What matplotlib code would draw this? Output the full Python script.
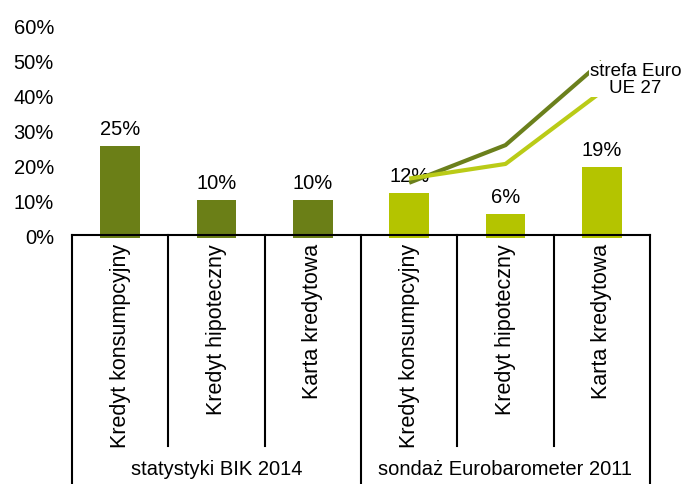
import matplotlib
matplotlib.use("Agg")
import matplotlib.pyplot as plt
from matplotlib.transforms import blended_transform_factory


# ============================================================
# Data
# ============================================================

CATEGORIES = [
    "Kredyt konsumpcyjny",
    "Kredyt hipoteczny",
    "Karta kredytowa",
    "Kredyt konsumpcyjny",
    "Kredyt hipoteczny",
    "Karta kredytowa",
]
BAR_VALUES = [0.255, 0.10, 0.10, 0.12, 0.06, 0.195]
BAR_LABELS = ["25%", "10%", "10%", "12%", "6%", "19%"]

GROUPS = ["statystyki BIK 2014", "sondaż Eurobarometer 2011"]

LINE_X = [3, 4, 5]
EURO_ZONE = [0.15, 0.258, 0.498]
EU27 = [0.162, 0.204, 0.412]

Y_TICKS = [0.0, 0.1, 0.2, 0.3, 0.4, 0.5, 0.6]

DARK = "#6B7F17"
LIGHT = "#B4C400"
DARK_LINE = "#6B801C"
LIGHT_LINE = "#BACB17"

plt.rcParams["font.family"] = ["Liberation Sans", "DejaVu Sans"]

FONT = 14.5


def main() -> None:
    fig = plt.figure(figsize=(6.83, 4.85), dpi=100)
    ax = fig.add_axes([72 / 683, 249 / 485, 578 / 683, 209 / 485])

    x = list(range(len(CATEGORIES)))
    colors = [DARK] * 3 + [LIGHT] * 3
    ax.bar(
        x,
        [v + 0.009 for v in BAR_VALUES],
        bottom=-0.009,
        width=0.41,
        color=colors,
        clip_on=False,
        zorder=1,
    )

    for xi, v, lab in zip(x, BAR_VALUES, BAR_LABELS):
        ax.annotate(
            lab,
            (xi, v),
            xytext=(0, 9),
            textcoords="offset points",
            ha="center",
            va="baseline",
            fontsize=FONT,
        )

    ax.plot(LINE_X, EURO_ZONE, color=DARK_LINE, linewidth=3, zorder=3,
            solid_capstyle="butt")
    ax.plot(LINE_X, EU27, color=LIGHT_LINE, linewidth=3, zorder=3,
            solid_capstyle="butt")
    ax.text(
        5.35, 0.448, "strefa Euro\nUE 27",
        ha="center", va="center", fontsize=13.5, linespacing=1.0,
        zorder=4,
        bbox=dict(facecolor="white", edgecolor="none", pad=0.8),
    )

    ax.set_xlim(-0.5, 5.5)
    ax.set_ylim(0, 0.6)
    ax.set_yticks(Y_TICKS)
    ax.set_yticklabels([f"{round(t * 100)}%" for t in Y_TICKS], fontsize=FONT)
    ax.tick_params(axis="y", length=0, pad=13)
    ax.set_xticks([])

    for side in ("left", "right", "top"):
        ax.spines[side].set_visible(False)
    ax.spines["bottom"].set_linewidth(1.5)
    ax.spines["bottom"].set_zorder(2.5)

    # table below the axis
    trans = blended_transform_factory(ax.transData, fig.transFigure)
    y_axis = 249 / 485
    y_inner = 38 / 485
    for xb in (-0.5, 2.5, 5.5):
        ax.plot([xb, xb], [y_axis, 0], transform=trans, color="black",
                linewidth=1.5, clip_on=False)
    for xb in (0.5, 1.5, 3.5, 4.5):
        ax.plot([xb, xb], [y_axis, y_inner], transform=trans, color="black",
                linewidth=1.5, clip_on=False)

    for xi, lab in zip(x, CATEGORIES):
        ax.text(xi, 241 / 485, lab, rotation=90, ha="center", va="top",
                fontsize=15.5, transform=trans)

    for gx, lab in zip((1, 4), GROUPS):
        ax.text(gx, 15 / 485, lab, ha="center", va="center",
                fontsize=FONT, transform=trans)

    fig.savefig("out.png", dpi=100)
    plt.close(fig)


if __name__ == "__main__":
    main()
